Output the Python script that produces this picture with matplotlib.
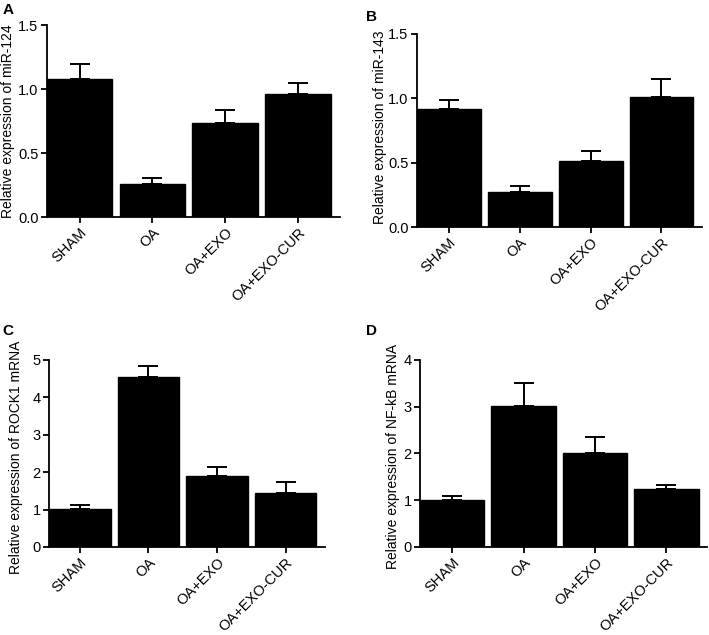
import matplotlib
matplotlib.use('Agg')
import matplotlib.pyplot as plt

plt.rcParams['font.family'] = ['Liberation Sans', 'DejaVu Sans']

groups = ['SHAM', 'OA', 'OA+EXO', 'OA+EXO-CUR']

# mean values and upper error (SD)
mir124 = [1.08, 0.26, 0.74, 0.96]
mir124_err = [0.12, 0.05, 0.10, 0.09]
mir143 = [0.92, 0.27, 0.51, 1.01]
mir143_err = [0.065, 0.05, 0.08, 0.14]
rock1 = [1.02, 4.54, 1.90, 1.45]
rock1_err = [0.10, 0.29, 0.25, 0.28]
nfkb = [1.00, 3.02, 2.01, 1.24]
nfkb_err = [0.09, 0.49, 0.34, 0.08]

panels = [
    ('A', mir124, mir124_err, 'Relative expression of miR-124', [0.0, 0.5, 1.0, 1.5], ['0.0', '0.5', '1.0', '1.5'], 1.5,
     [0.066, 0.658, 0.413, 0.302], (-0.109, 0.5)),
    ('B', mir143, mir143_err, 'Relative expression of miR-143', [0.0, 0.5, 1.0, 1.5], ['0.0', '0.5', '1.0', '1.5'], 1.5,
     [0.588, 0.6425, 0.402, 0.304], (-0.104, 0.515)),
    ('C', rock1, rock1_err, 'Relative expression of ROCK1 mRNA', [0, 1, 2, 3, 4, 5], ['0', '1', '2', '3', '4', '5'], 5,
     [0.069, 0.1386, 0.389, 0.2945], (-0.095, 0.48)),
    ('D', nfkb, nfkb_err, 'Relative expression of NF-kB mRNA', [0, 1, 2, 3, 4], ['0', '1', '2', '3', '4'], 4,
     [0.5924, 0.1386, 0.405, 0.2945], (-0.068, 0.485)),
]

label_pos = {'A': (0.004, 0.995), 'B': (0.516, 0.985), 'C': (0.004, 0.49), 'D': (0.516, 0.49)}

fig = plt.figure(figsize=(7.09, 6.35), dpi=100)

for name, vals, errs, ylab, ticks, ticklabels, ymax, rect, lab_xy in panels:
    ax = fig.add_axes(rect)
    x = range(len(groups))
    ax.bar(x, vals, width=0.9, color='black', edgecolor='black', zorder=2)
    ax.errorbar(x, vals, yerr=[[0] * len(errs), errs], fmt='none', ecolor='black',
                elinewidth=1.4, capsize=7, capthick=1.4, zorder=1)
    ax.set_xlim(-0.45, 3.57)
    ax.set_ylim(0, ymax)
    ax.set_yticks(ticks)
    ax.set_yticklabels(ticklabels, fontsize=10.5)
    ax.set_xticks(list(x))
    ax.set_xticklabels(groups, rotation=45, ha='right', rotation_mode='anchor', fontsize=10.5)
    ax.set_ylabel(ylab, fontsize=10)
    ax.yaxis.set_label_coords(*lab_xy)
    ax.spines['top'].set_visible(False)
    ax.spines['right'].set_visible(False)
    ax.spines['left'].set_linewidth(1.3)
    ax.spines['bottom'].set_linewidth(1.3)
    ax.tick_params(direction='out', width=1.3, length=4, pad=2)
    lx, ly = label_pos[name]
    fig.text(lx, ly, name, fontsize=11, fontweight='bold', va='top', ha='left')

plt.savefig('out.png', dpi=100)
plt.close()
